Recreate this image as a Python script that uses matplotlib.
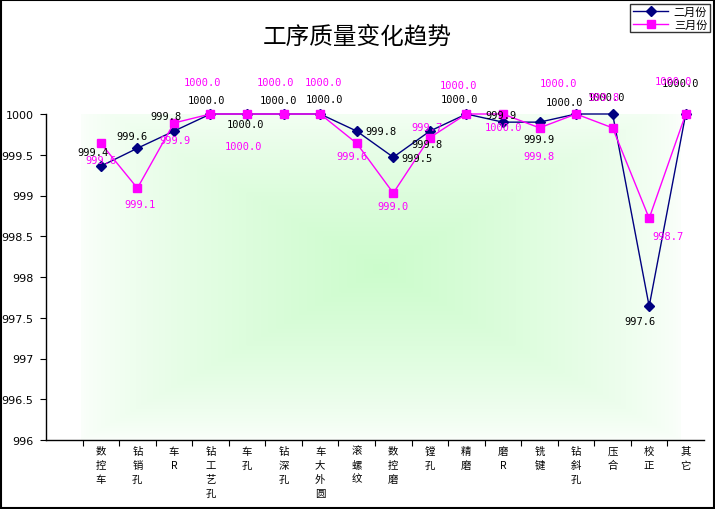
import numpy as np
import matplotlib
matplotlib.use('Agg')
import matplotlib.pyplot as plt
from matplotlib.patches import Rectangle

plt.rcParams['font.family'] = ['Noto Sans CJK SC', 'DejaVu Sans']

# data
categories = ['数控车', '钻销孔', '车R', '钻工艺孔', '车孔', '钻深孔', '车大外圆', '滚螺纹',
              '数控磨', '镗孔', '精磨', '磨R', '铣键', '钻斜孔', '压合', '校正', '其它']
feb = [999.36, 999.58, 999.79, 1000.0, 1000.0, 1000.0, 1000.0, 999.79,
       999.47, 999.79, 1000.0, 999.90, 999.90, 1000.0, 1000.0, 997.64, 1000.0]
mar = [999.64, 999.09, 999.89, 1000.0, 1000.0, 1000.0, 1000.0, 999.64,
       999.03, 999.71, 1000.0, 1000.0, 999.83, 1000.0, 999.83, 998.72, 1000.0]
series_names = ['二月份', '三月份']
title = '工序质量变化趋势'

# label placement (pixel offsets from each point), layout only
feb_off = [(-8, 14), (-5, 12), (-8, 15), (-4, 14), (-2, -10), (-5, 14), (4, 15), (24, 0),
           (24, -1), (-3, -13), (-7, 15), (-2, 7), (-1, -17), (-12, 12), (-6, 17), (-9, -15), (-5, 31)]
mar_off = [(0, -17), (3, -16), (1, -17), (-8, 32), (-4, -32), (-8, 32), (3, 32), (-5, -13),
           (0, -13), (-3, 11), (-8, 29), (1, -13), (-1, -28), (-18, 31), (-9, 31), (19, -18), (-12, 33)]

W, H = 715, 510
fig = plt.figure(figsize=(W / 100, H / 100), dpi=100)
fig.patch.set_facecolor('white')
ax = fig.add_axes([46 / W, (H - 441) / H, (704 - 46) / W, (441 - 115) / H])
ax.set_facecolor('white')

x = np.arange(len(categories))
ax.set_xlim(-1.5, len(categories) - 0.5)
ax.set_ylim(996, 1000)

# rectangular green gradient behind the plot
nx, ny = 300, 200
GX, GY = np.meshgrid(np.linspace(-1, 1, nx), np.linspace(-1, 1, ny))
t = np.clip(np.maximum(np.abs(GX), np.abs(GY)), 0, 1)
c0 = np.array([204, 252, 204]) / 255
img = 1 - (1 - c0)[None, None, :] * (0.08 + 0.92 * (1 - t[..., None]) ** 0.75)
ax.imshow(img, extent=(-0.55, 15.85, 996.0, 1000.2), aspect='auto', zorder=0,
          interpolation='bilinear')

ax.plot(x, feb, color='#000080', lw=1, marker='D', ms=5, mfc='#000080', mec='#000080',
        label=series_names[0], zorder=3, clip_on=False)
ax.plot(x, mar, color='#ff00ff', lw=1, marker='s', ms=6, mfc='#ff00ff', mec='#ff00ff',
        label=series_names[1], zorder=4, clip_on=False)

for i in range(len(categories)):
    ax.annotate(f'{feb[i]:.1f}', (x[i], feb[i]), xytext=feb_off[i], textcoords='offset pixels',
                ha='center', va='center', fontsize=7.5, family='DejaVu Sans Mono',
                color='black', zorder=5, annotation_clip=False)
    ax.annotate(f'{mar[i]:.1f}', (x[i], mar[i]), xytext=mar_off[i], textcoords='offset pixels',
                ha='center', va='center', fontsize=7.5, family='DejaVu Sans Mono',
                color='#ff00ff', zorder=5, annotation_clip=False)

for s in ['top', 'right']:
    ax.spines[s].set_visible(False)
for s in ['left', 'bottom']:
    ax.spines[s].set_color('black')
    ax.spines[s].set_linewidth(1)

yt = np.arange(996, 1000.01, 0.5)
ax.set_yticks(yt)
ax.set_yticklabels([f'{v:g}' for v in yt], fontsize=8, family='DejaVu Sans')
ax.tick_params(axis='y', direction='out', length=4, pad=5, colors='black')

ax.set_xticks(np.arange(-0.5, len(categories) - 0.5, 1))
ax.set_xticklabels([])
ax.tick_params(axis='x', which='major', direction='out', length=4)
ax.set_xticks(x, minor=True)
ax.set_xticklabels(['\n'.join(c) for c in categories], minor=True, fontsize=7.5,
                   linespacing=1.5, va='top')
ax.tick_params(axis='x', which='minor', length=0, pad=4)

fig.text(357 / W, 1 - 37 / H, title, ha='center', va='center', fontsize=17)

leg = fig.legend(loc='upper right', bbox_to_anchor=(710 / W, 1 - 5 / H), fontsize=8,
                 frameon=True, fancybox=False, edgecolor='black', handlelength=3.2,
                 borderpad=0.25, labelspacing=0.2, handletextpad=0.5, borderaxespad=0)
leg.get_frame().set_linewidth(1)

fig.patches.append(Rectangle((0.001, 0.001), 0.997, 0.997, transform=fig.transFigure,
                             fill=False, edgecolor='black', lw=1.5))

fig.savefig('out.png', dpi=100)
